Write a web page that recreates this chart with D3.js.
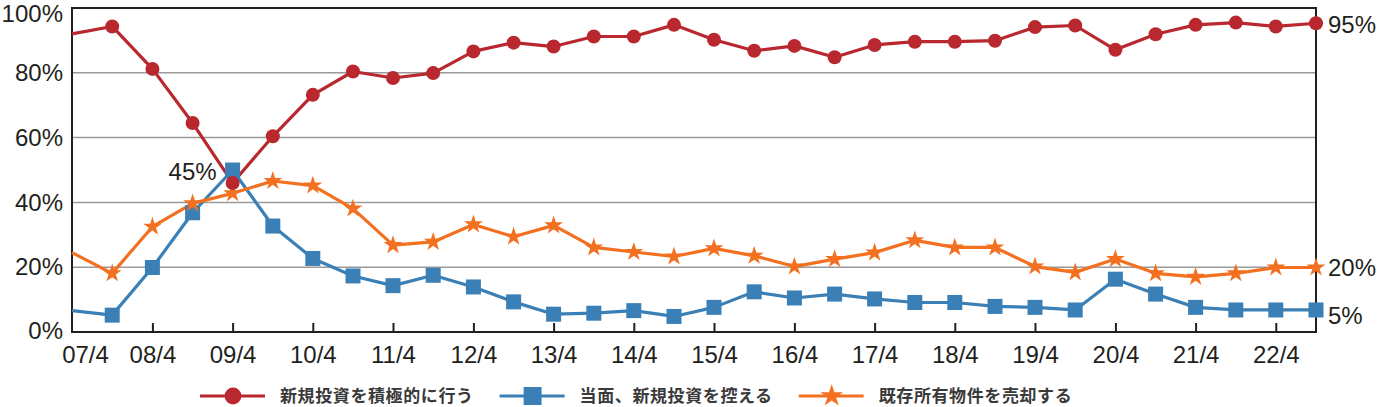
<!DOCTYPE html>
<html>
<head>
<meta charset="utf-8">
<script src="https://cdn.jsdelivr.net/npm/d3@7"></script>
<style>
  body { margin: 0; background: #fff; }
  svg { display: block; }
  .num { font-family: "Liberation Sans", Arial, sans-serif; font-size: 24px; fill: #231f20; }
  .leg { font-family: "Noto Sans CJK JP", sans-serif; font-size: 17px; font-weight: 700; fill: #3a3a3a; letter-spacing: 0.6px; }
</style>
</head>
<body>
<div id="chart"></div>
<script>
"use strict";

// survey periods (yy/m), semiannual
const periods = ["07/4","07/10","08/4","08/10","09/4","09/10","10/4","10/10","11/4","11/10",
  "12/4","12/10","13/4","13/10","14/4","14/10","15/4","15/10","16/4","16/10",
  "17/4","17/10","18/4","18/10","19/4","19/10","20/4","20/10","21/4","21/10","22/4","22/10"];

const invest = [92,94.3,81.2,64.5,46,60.4,73.2,80.4,78.4,79.9,86.6,89.3,88.1,91.2,91.2,94.8,
  90.2,86.8,88.3,84.8,88.6,89.6,89.6,89.9,94.1,94.6,87.1,91.9,94.8,95.5,94.3,95.3];
const refrain = [6.6,5.2,19.9,36.8,50,32.7,22.7,17.3,14.3,17.5,13.9,9.3,5.5,5.8,6.6,4.8,
  7.6,12.4,10.5,11.7,10.2,9.1,9.1,7.9,7.6,6.8,16.3,11.7,7.6,6.8,6.8,6.8];
const sell = [24.5,18.1,32.5,39.7,42.8,46.6,45.2,38.1,26.8,27.8,33.2,29.4,32.9,26.1,24.7,23.3,
  25.8,23.5,20.2,22.5,24.5,28.3,26.1,26.1,20.2,18.4,22.5,18.1,17.0,18.1,19.9,19.9];

const seriesNames = ["新規投資を積極的に行う", "当面、新規投資を控える", "既存所有物件を売却する"];
const xTickLabels = ["07/4","08/4","09/4","10/4","11/4","12/4","13/4","14/4","15/4",
  "16/4","17/4","18/4","19/4","20/4","21/4","22/4"];
const yTicks = [0, 20, 40, 60, 80, 100];
const endLabels = [95, 20, 5];
const minLabel = "45%";

const width = 1380, height = 407;
const margin = { top: 8, right: 64, bottom: 74, left: 72 };

const parse = d3.timeParse("%y/%m");
const dates = periods.map(parse);

const svg = d3.select("#chart").append("svg")
  .attr("width", width)
  .attr("height", height);

const x = d3.scaleTime()
  .domain(d3.extent(dates))
  .range([margin.left, width - margin.right]);

const y = d3.scaleLinear()
  .domain([0, 100])
  .range([height - margin.bottom - 1, margin.top]);

// grid
svg.append("g")
  .selectAll("line")
  .data(yTicks.filter(d => d > 0 && d < 100))
  .join("line")
  .attr("x1", x.range()[0])
  .attr("x2", x.range()[1])
  .attr("y1", d => y(d))
  .attr("y2", d => y(d))
  .attr("stroke", "#9a9a9a")
  .attr("stroke-width", 1.5);

// frame
svg.append("rect")
  .attr("x", x.range()[0])
  .attr("y", y(100))
  .attr("width", x.range()[1] - x.range()[0])
  .attr("height", y(0) - y(100))
  .attr("fill", "none")
  .attr("stroke", "#231f20")
  .attr("stroke-width", 2);

// x axis
const xAxis = svg.append("g")
  .attr("transform", `translate(0,${y(0)})`)
  .call(d3.axisBottom(x)
    .tickValues(xTickLabels.map(parse))
    .tickFormat(d3.timeFormat("%y/%-m"))
    .tickSizeInner(-9)
    .tickSizeOuter(0)
    .tickPadding(14));
xAxis.select(".domain").remove();
xAxis.selectAll(".tick line").attr("stroke", "#231f20").attr("stroke-width", 2);
xAxis.selectAll(".tick text").attr("class", "num").attr("font-size", null).attr("font-family", null).attr("fill", null);
xAxis.selectAll(".tick").filter((d, i) => i === 0).select("line").remove();
xAxis.selectAll(".tick").filter((d, i) => i === 0).select("text").attr("dx", 13);

// y axis
const yAxis = svg.append("g")
  .attr("transform", `translate(${x.range()[0]},0)`)
  .call(d3.axisLeft(y)
    .tickValues(yTicks)
    .tickFormat(d => d + "%")
    .tickSize(0)
    .tickPadding(9));
yAxis.select(".domain").remove();
yAxis.selectAll(".tick text").attr("class", "num").attr("font-size", null).attr("font-family", null).attr("fill", null);
yAxis.selectAll(".tick").filter(d => d === 100).select("text").attr("dy", "0.55em");
yAxis.selectAll(".tick").filter(d => d === 0).select("text").attr("dy", "0.25em");

const series = [
  { name: seriesNames[0], values: invest, color: "#b8282e", shape: "circle" },
  { name: seriesNames[1], values: refrain, color: "#3a80b6", shape: "square" },
  { name: seriesNames[2], values: sell, color: "#f37021", shape: "star" }
];

const line = d3.line()
  .x((d, i) => x(dates[i]))
  .y(d => y(d));

function drawMarker(g, shape, color, scale) {
  if (shape === "circle") {
    g.append("circle").attr("r", 7 * scale).attr("fill", color);
  } else if (shape === "square") {
    g.append("path").attr("d", d3.symbol(d3.symbolSquare, 225 * scale * scale)()).attr("fill", color);
  } else {
    g.append("path").attr("d", d3.symbol(d3.symbolStar, 110 * scale * scale)()).attr("fill", color);
  }
}

// lines
series.forEach(s => {
  svg.append("path")
    .attr("d", line(s.values))
    .attr("fill", "none")
    .attr("stroke", s.color)
    .attr("stroke-width", 3.2)
    .attr("stroke-linejoin", "round");
});

// markers (first period has none)
[series[1], series[2], series[0]].forEach(s => {
  s.values.forEach((v, i) => {
    if (i === 0) return;
    const g = svg.append("g").attr("transform", `translate(${x(dates[i])},${y(v)})`);
    drawMarker(g, s.shape, s.color, 1);
  });
});

// end labels on right
svg.append("g")
  .selectAll("text")
  .data(endLabels)
  .join("text")
  .attr("class", "num")
  .attr("x", x.range()[1] + 12)
  .attr("y", d => y(d))
  .attr("dy", "0.36em")
  .text(d => d + "%");

// minimum label next to 09/4
const iMin = d3.minIndex(invest);
svg.append("text")
  .attr("class", "num")
  .attr("x", x(dates[iMin]) - 16)
  .attr("y", y(invest[iMin]) - 3)
  .attr("text-anchor", "end")
  .text(minLabel);

// legend
const legY = 396;
let lx = 200;
series.forEach(s => {
  const g = svg.append("g").attr("transform", `translate(${lx},${legY})`);
  g.append("line")
    .attr("x1", 0).attr("x2", 65)
    .attr("stroke", s.color).attr("stroke-width", 3.2);
  const m = g.append("g").attr("transform", "translate(33,0)");
  drawMarker(m, s.shape, s.color, 1.2);
  const t = g.append("text")
    .attr("class", "leg")
    .attr("x", 80)
    .attr("dy", "0.35em")
    .text(s.name);
  lx += 80 + t.node().getComputedTextLength() + 26;
});
</script>
</body>
</html>
